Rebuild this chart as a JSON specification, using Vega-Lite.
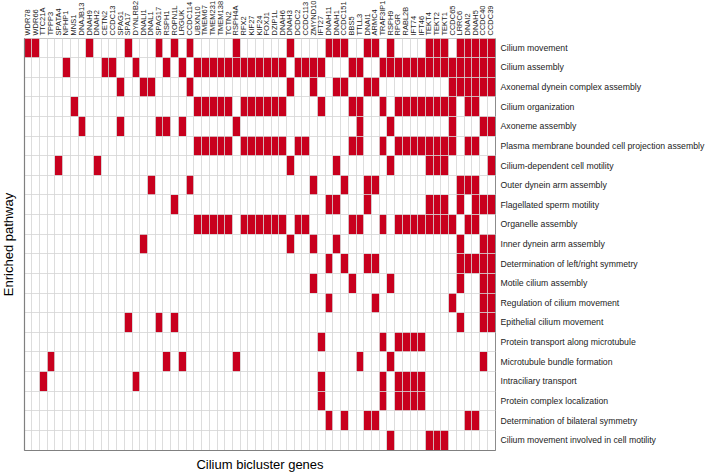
{
"$schema": "https://vega.github.io/schema/vega-lite/v6.json",
"width": 471,
"height": 412,
"autosize": {"type": "none"},
"padding": {"left": 24, "top": 38, "right": 213, "bottom": 24},
"background": "white",
"config": {"view": {"stroke": "#8c8c8c", "strokeWidth": 1}, "font": "Liberation Sans"},
"datasets": {
"cells": [
{"gene":"WDR78","pathway":"Cilium movement"},{"gene":"WDR66","pathway":"Cilium movement"},{"gene":"DNAH9","pathway":"Cilium movement"},{"gene":"SPA17","pathway":"Cilium movement"},{"gene":"SPAG17","pathway":"Cilium movement"},{"gene":"ROPN1L","pathway":"Cilium movement"},{"gene":"CCDC114","pathway":"Cilium movement"},{"gene":"RSPH4A","pathway":"Cilium movement"},{"gene":"DNAH3","pathway":"Cilium movement"},{"gene":"DNAH11","pathway":"Cilium movement"},{"gene":"DNAH1","pathway":"Cilium movement"},{"gene":"CCDC151","pathway":"Cilium movement"},{"gene":"DNAI1","pathway":"Cilium movement"},{"gene":"ARMC4","pathway":"Cilium movement"},{"gene":"RSPH9","pathway":"Cilium movement"},{"gene":"TEKT4","pathway":"Cilium movement"},{"gene":"TEKT2","pathway":"Cilium movement"},{"gene":"TEKT1","pathway":"Cilium movement"},{"gene":"LRRC6","pathway":"Cilium movement"},{"gene":"DNAI2","pathway":"Cilium movement"},{"gene":"DNAH5","pathway":"Cilium movement"},{"gene":"CCDC40","pathway":"Cilium movement"},{"gene":"CCDC39","pathway":"Cilium movement"},
{"gene":"NPHP1","pathway":"Cilium assembly"},{"gene":"CETN2","pathway":"Cilium assembly"},{"gene":"CCDC13","pathway":"Cilium assembly"},{"gene":"DYNLRB2","pathway":"Cilium assembly"},{"gene":"RSPH1","pathway":"Cilium assembly"},{"gene":"LRGUK","pathway":"Cilium assembly"},{"gene":"UBXN10","pathway":"Cilium assembly"},{"gene":"TMEM67","pathway":"Cilium assembly"},{"gene":"TMEM231","pathway":"Cilium assembly"},{"gene":"TMEM138","pathway":"Cilium assembly"},{"gene":"TCTN2","pathway":"Cilium assembly"},{"gene":"RSPH4A","pathway":"Cilium assembly"},{"gene":"RFX2","pathway":"Cilium assembly"},{"gene":"KIF27","pathway":"Cilium assembly"},{"gene":"KIF24","pathway":"Cilium assembly"},{"gene":"FOXJ1","pathway":"Cilium assembly"},{"gene":"DZIP1L","pathway":"Cilium assembly"},{"gene":"DNAH6","pathway":"Cilium assembly"},{"gene":"DCDC2","pathway":"Cilium assembly"},{"gene":"CCDC113","pathway":"Cilium assembly"},{"gene":"ZMYND10","pathway":"Cilium assembly"},{"gene":"IFT27","pathway":"Cilium assembly"},{"gene":"BBS5","pathway":"Cilium assembly"},{"gene":"TTLL3","pathway":"Cilium assembly"},{"gene":"TRAF3IP1","pathway":"Cilium assembly"},{"gene":"RSPH9","pathway":"Cilium assembly"},{"gene":"RPGR","pathway":"Cilium assembly"},{"gene":"RABL2B","pathway":"Cilium assembly"},{"gene":"IFT74","pathway":"Cilium assembly"},{"gene":"IFT46","pathway":"Cilium assembly"},{"gene":"TEKT4","pathway":"Cilium assembly"},{"gene":"TEKT2","pathway":"Cilium assembly"},{"gene":"TEKT1","pathway":"Cilium assembly"},{"gene":"CCDC65","pathway":"Cilium assembly"},{"gene":"LRRC6","pathway":"Cilium assembly"},{"gene":"DNAI2","pathway":"Cilium assembly"},{"gene":"DNAH5","pathway":"Cilium assembly"},{"gene":"CCDC40","pathway":"Cilium assembly"},{"gene":"CCDC39","pathway":"Cilium assembly"},
{"gene":"SPAG1","pathway":"Axonemal dynein complex assembly"},{"gene":"DNALI1","pathway":"Axonemal dynein complex assembly"},{"gene":"DNAL1","pathway":"Axonemal dynein complex assembly"},{"gene":"CCDC114","pathway":"Axonemal dynein complex assembly"},{"gene":"DNAH3","pathway":"Axonemal dynein complex assembly"},{"gene":"ZMYND10","pathway":"Axonemal dynein complex assembly"},{"gene":"DNAH1","pathway":"Axonemal dynein complex assembly"},{"gene":"CCDC151","pathway":"Axonemal dynein complex assembly"},{"gene":"DNAI1","pathway":"Axonemal dynein complex assembly"},{"gene":"ARMC4","pathway":"Axonemal dynein complex assembly"},{"gene":"CCDC65","pathway":"Axonemal dynein complex assembly"},{"gene":"LRRC6","pathway":"Axonemal dynein complex assembly"},{"gene":"DNAI2","pathway":"Axonemal dynein complex assembly"},{"gene":"DNAH5","pathway":"Axonemal dynein complex assembly"},{"gene":"CCDC40","pathway":"Axonemal dynein complex assembly"},{"gene":"CCDC39","pathway":"Axonemal dynein complex assembly"},
{"gene":"MNS1","pathway":"Cilium organization"},{"gene":"UBXN10","pathway":"Cilium organization"},{"gene":"TMEM67","pathway":"Cilium organization"},{"gene":"TMEM231","pathway":"Cilium organization"},{"gene":"TMEM138","pathway":"Cilium organization"},{"gene":"TCTN2","pathway":"Cilium organization"},{"gene":"RFX2","pathway":"Cilium organization"},{"gene":"KIF27","pathway":"Cilium organization"},{"gene":"KIF24","pathway":"Cilium organization"},{"gene":"FOXJ1","pathway":"Cilium organization"},{"gene":"DZIP1L","pathway":"Cilium organization"},{"gene":"DNAH6","pathway":"Cilium organization"},{"gene":"IFT27","pathway":"Cilium organization"},{"gene":"BBS5","pathway":"Cilium organization"},{"gene":"TTLL3","pathway":"Cilium organization"},{"gene":"TRAF3IP1","pathway":"Cilium organization"},{"gene":"RPGR","pathway":"Cilium organization"},{"gene":"RABL2B","pathway":"Cilium organization"},{"gene":"IFT74","pathway":"Cilium organization"},{"gene":"IFT46","pathway":"Cilium organization"},{"gene":"TEKT4","pathway":"Cilium organization"},{"gene":"TEKT2","pathway":"Cilium organization"},{"gene":"TEKT1","pathway":"Cilium organization"},{"gene":"CCDC65","pathway":"Cilium organization"},{"gene":"DNAI2","pathway":"Cilium organization"},{"gene":"DNAH5","pathway":"Cilium organization"},
{"gene":"DNAJB13","pathway":"Axoneme assembly"},{"gene":"SPAG1","pathway":"Axoneme assembly"},{"gene":"SPAG17","pathway":"Axoneme assembly"},{"gene":"RSPH1","pathway":"Axoneme assembly"},{"gene":"LRGUK","pathway":"Axoneme assembly"},{"gene":"RSPH4A","pathway":"Axoneme assembly"},{"gene":"TTLL3","pathway":"Axoneme assembly"},{"gene":"RSPH9","pathway":"Axoneme assembly"},{"gene":"CCDC65","pathway":"Axoneme assembly"},{"gene":"CCDC40","pathway":"Axoneme assembly"},{"gene":"CCDC39","pathway":"Axoneme assembly"},
{"gene":"UBXN10","pathway":"Plasma membrane bounded cell projection assembly"},{"gene":"TMEM67","pathway":"Plasma membrane bounded cell projection assembly"},{"gene":"TMEM231","pathway":"Plasma membrane bounded cell projection assembly"},{"gene":"TMEM138","pathway":"Plasma membrane bounded cell projection assembly"},{"gene":"TCTN2","pathway":"Plasma membrane bounded cell projection assembly"},{"gene":"RFX2","pathway":"Plasma membrane bounded cell projection assembly"},{"gene":"KIF27","pathway":"Plasma membrane bounded cell projection assembly"},{"gene":"KIF24","pathway":"Plasma membrane bounded cell projection assembly"},{"gene":"FOXJ1","pathway":"Plasma membrane bounded cell projection assembly"},{"gene":"DZIP1L","pathway":"Plasma membrane bounded cell projection assembly"},{"gene":"DNAH6","pathway":"Plasma membrane bounded cell projection assembly"},{"gene":"DCDC2","pathway":"Plasma membrane bounded cell projection assembly"},{"gene":"CCDC113","pathway":"Plasma membrane bounded cell projection assembly"},{"gene":"BBS5","pathway":"Plasma membrane bounded cell projection assembly"},{"gene":"TTLL3","pathway":"Plasma membrane bounded cell projection assembly"},{"gene":"TRAF3IP1","pathway":"Plasma membrane bounded cell projection assembly"},{"gene":"RPGR","pathway":"Plasma membrane bounded cell projection assembly"},{"gene":"RABL2B","pathway":"Plasma membrane bounded cell projection assembly"},{"gene":"IFT74","pathway":"Plasma membrane bounded cell projection assembly"},{"gene":"IFT46","pathway":"Plasma membrane bounded cell projection assembly"},{"gene":"TEKT4","pathway":"Plasma membrane bounded cell projection assembly"},{"gene":"TEKT2","pathway":"Plasma membrane bounded cell projection assembly"},{"gene":"TEKT1","pathway":"Plasma membrane bounded cell projection assembly"},{"gene":"CCDC65","pathway":"Plasma membrane bounded cell projection assembly"},{"gene":"DNAI2","pathway":"Plasma membrane bounded cell projection assembly"},{"gene":"DNAH5","pathway":"Plasma membrane bounded cell projection assembly"},
{"gene":"SPATA4","pathway":"Cilium-dependent cell motility"},{"gene":"DNAH2","pathway":"Cilium-dependent cell motility"},{"gene":"DNAH3","pathway":"Cilium-dependent cell motility"},{"gene":"DNAH1","pathway":"Cilium-dependent cell motility"},{"gene":"RSPH9","pathway":"Cilium-dependent cell motility"},{"gene":"TEKT4","pathway":"Cilium-dependent cell motility"},{"gene":"TEKT2","pathway":"Cilium-dependent cell motility"},{"gene":"TEKT1","pathway":"Cilium-dependent cell motility"},{"gene":"CCDC39","pathway":"Cilium-dependent cell motility"},
{"gene":"DNAL1","pathway":"Outer dynein arm assembly"},{"gene":"CCDC114","pathway":"Outer dynein arm assembly"},{"gene":"ZMYND10","pathway":"Outer dynein arm assembly"},{"gene":"CCDC151","pathway":"Outer dynein arm assembly"},{"gene":"DNAI1","pathway":"Outer dynein arm assembly"},{"gene":"ARMC4","pathway":"Outer dynein arm assembly"},{"gene":"LRRC6","pathway":"Outer dynein arm assembly"},{"gene":"DNAI2","pathway":"Outer dynein arm assembly"},{"gene":"DNAH5","pathway":"Outer dynein arm assembly"},
{"gene":"ROPN1L","pathway":"Flagellated sperm motility"},{"gene":"DNAH11","pathway":"Flagellated sperm motility"},{"gene":"DNAH1","pathway":"Flagellated sperm motility"},{"gene":"DNAI1","pathway":"Flagellated sperm motility"},{"gene":"TEKT4","pathway":"Flagellated sperm motility"},{"gene":"TEKT2","pathway":"Flagellated sperm motility"},{"gene":"TEKT1","pathway":"Flagellated sperm motility"},{"gene":"LRRC6","pathway":"Flagellated sperm motility"},{"gene":"DNAH5","pathway":"Flagellated sperm motility"},{"gene":"CCDC40","pathway":"Flagellated sperm motility"},{"gene":"CCDC39","pathway":"Flagellated sperm motility"},
{"gene":"UBXN10","pathway":"Organelle assembly"},{"gene":"TMEM67","pathway":"Organelle assembly"},{"gene":"TMEM231","pathway":"Organelle assembly"},{"gene":"TMEM138","pathway":"Organelle assembly"},{"gene":"TCTN2","pathway":"Organelle assembly"},{"gene":"RFX2","pathway":"Organelle assembly"},{"gene":"KIF27","pathway":"Organelle assembly"},{"gene":"KIF24","pathway":"Organelle assembly"},{"gene":"FOXJ1","pathway":"Organelle assembly"},{"gene":"DZIP1L","pathway":"Organelle assembly"},{"gene":"DNAH6","pathway":"Organelle assembly"},{"gene":"DCDC2","pathway":"Organelle assembly"},{"gene":"CCDC113","pathway":"Organelle assembly"},{"gene":"BBS5","pathway":"Organelle assembly"},{"gene":"TTLL3","pathway":"Organelle assembly"},{"gene":"TRAF3IP1","pathway":"Organelle assembly"},{"gene":"RPGR","pathway":"Organelle assembly"},{"gene":"RABL2B","pathway":"Organelle assembly"},{"gene":"IFT74","pathway":"Organelle assembly"},{"gene":"IFT46","pathway":"Organelle assembly"},{"gene":"TEKT4","pathway":"Organelle assembly"},{"gene":"TEKT2","pathway":"Organelle assembly"},{"gene":"TEKT1","pathway":"Organelle assembly"},{"gene":"CCDC65","pathway":"Organelle assembly"},{"gene":"DNAI2","pathway":"Organelle assembly"},{"gene":"DNAH5","pathway":"Organelle assembly"},
{"gene":"DNALI1","pathway":"Inner dynein arm assembly"},{"gene":"DNAH3","pathway":"Inner dynein arm assembly"},{"gene":"ZMYND10","pathway":"Inner dynein arm assembly"},{"gene":"DNAH1","pathway":"Inner dynein arm assembly"},{"gene":"LRRC6","pathway":"Inner dynein arm assembly"},{"gene":"CCDC40","pathway":"Inner dynein arm assembly"},{"gene":"CCDC39","pathway":"Inner dynein arm assembly"},
{"gene":"DNAH11","pathway":"Determination of left/right symmetry"},{"gene":"CCDC151","pathway":"Determination of left/right symmetry"},{"gene":"DNAI1","pathway":"Determination of left/right symmetry"},{"gene":"ARMC4","pathway":"Determination of left/right symmetry"},{"gene":"LRRC6","pathway":"Determination of left/right symmetry"},{"gene":"DNAI2","pathway":"Determination of left/right symmetry"},{"gene":"DNAH5","pathway":"Determination of left/right symmetry"},{"gene":"CCDC40","pathway":"Determination of left/right symmetry"},{"gene":"CCDC39","pathway":"Determination of left/right symmetry"},
{"gene":"ZMYND10","pathway":"Motile cilium assembly"},{"gene":"BBS5","pathway":"Motile cilium assembly"},{"gene":"RSPH9","pathway":"Motile cilium assembly"},{"gene":"LRRC6","pathway":"Motile cilium assembly"},{"gene":"CCDC40","pathway":"Motile cilium assembly"},{"gene":"CCDC39","pathway":"Motile cilium assembly"},
{"gene":"DNAH11","pathway":"Regulation of cilium movement"},{"gene":"ARMC4","pathway":"Regulation of cilium movement"},{"gene":"CCDC65","pathway":"Regulation of cilium movement"},{"gene":"CCDC40","pathway":"Regulation of cilium movement"},{"gene":"CCDC39","pathway":"Regulation of cilium movement"},
{"gene":"SPA17","pathway":"Epithelial cilium movement"},{"gene":"SPAG17","pathway":"Epithelial cilium movement"},{"gene":"ROPN1L","pathway":"Epithelial cilium movement"},{"gene":"LRRC6","pathway":"Epithelial cilium movement"},{"gene":"CCDC40","pathway":"Epithelial cilium movement"},{"gene":"CCDC39","pathway":"Epithelial cilium movement"},
{"gene":"IFT27","pathway":"Protein transport along microtubule"},{"gene":"TRAF3IP1","pathway":"Protein transport along microtubule"},{"gene":"RPGR","pathway":"Protein transport along microtubule"},{"gene":"RABL2B","pathway":"Protein transport along microtubule"},{"gene":"IFT74","pathway":"Protein transport along microtubule"},{"gene":"IFT46","pathway":"Protein transport along microtubule"},
{"gene":"TPPP3","pathway":"Microtubule bundle formation"},{"gene":"RSPH1","pathway":"Microtubule bundle formation"},{"gene":"LRGUK","pathway":"Microtubule bundle formation"},{"gene":"RSPH4A","pathway":"Microtubule bundle formation"},{"gene":"TTLL3","pathway":"Microtubule bundle formation"},{"gene":"RSPH9","pathway":"Microtubule bundle formation"},{"gene":"CCDC40","pathway":"Microtubule bundle formation"},
{"gene":"TTC21A","pathway":"Intraciliary transport"},{"gene":"DYNLRB2","pathway":"Intraciliary transport"},{"gene":"IFT27","pathway":"Intraciliary transport"},{"gene":"TRAF3IP1","pathway":"Intraciliary transport"},{"gene":"RPGR","pathway":"Intraciliary transport"},{"gene":"RABL2B","pathway":"Intraciliary transport"},{"gene":"IFT74","pathway":"Intraciliary transport"},{"gene":"IFT46","pathway":"Intraciliary transport"},
{"gene":"IFT27","pathway":"Protein complex localization"},{"gene":"TRAF3IP1","pathway":"Protein complex localization"},{"gene":"RPGR","pathway":"Protein complex localization"},{"gene":"RABL2B","pathway":"Protein complex localization"},{"gene":"IFT74","pathway":"Protein complex localization"},{"gene":"IFT46","pathway":"Protein complex localization"},
{"gene":"DNAH11","pathway":"Determination of bilateral symmetry"},{"gene":"CCDC151","pathway":"Determination of bilateral symmetry"},{"gene":"DNAI1","pathway":"Determination of bilateral symmetry"},{"gene":"ARMC4","pathway":"Determination of bilateral symmetry"},{"gene":"DNAI2","pathway":"Determination of bilateral symmetry"},{"gene":"DNAH5","pathway":"Determination of bilateral symmetry"},
{"gene":"RSPH9","pathway":"Cilium movement involved in cell motility"},{"gene":"TEKT4","pathway":"Cilium movement involved in cell motility"},{"gene":"TEKT2","pathway":"Cilium movement involved in cell motility"},{"gene":"TEKT1","pathway":"Cilium movement involved in cell motility"}
]
},
"data": {"name": "cells"},
"layer": [
{
"mark": {"type": "rect", "color": "#c8001e"},
"encoding": {
"x": {"field": "gene", "type": "nominal",
"scale": {"domain": ["WDR78","WDR66","TTC21A","TPPP3","SPATA4","NPHP1","MNS1","DNAJB13","DNAH9","DNAH2","CETN2","CCDC13","SPAG1","SPA17","DYNLRB2","DNALI1","DNAL1","SPAG17","RSPH1","ROPN1L","LRGUK","CCDC114","UBXN10","TMEM67","TMEM231","TMEM138","TCTN2","RSPH4A","RFX2","KIF27","KIF24","FOXJ1","DZIP1L","DNAH6","DNAH3","DCDC2","CCDC113","ZMYND10","IFT27","DNAH11","DNAH1","CCDC151","BBS5","TTLL3","DNAI1","ARMC4","TRAF3IP1","RSPH9","RPGR","RABL2B","IFT74","IFT46","TEKT4","TEKT2","TEKT1","CCDC65","LRRC6","DNAI2","DNAH5","CCDC40","CCDC39"], "paddingInner": 0, "paddingOuter": 0},
"axis": {"orient": "top", "title": null, "labelAngle": -90, "labelAlign": "left", "labelBaseline": "middle", "labelPadding": 3, "labelFontSize": 7.5, "labelColor": "#222222", "labelOverlap": false, "labelFont": "Liberation Sans", "ticks": false, "domain": false, "grid": true, "gridColor": "#d4d4d4", "gridWidth": 0.8, "bandPosition": 0, "zindex": 1}},
"y": {"field": "pathway", "type": "nominal",
"scale": {"domain": ["Cilium movement","Cilium assembly","Axonemal dynein complex assembly","Cilium organization","Axoneme assembly","Plasma membrane bounded cell projection assembly","Cilium-dependent cell motility","Outer dynein arm assembly","Flagellated sperm motility","Organelle assembly","Inner dynein arm assembly","Determination of left/right symmetry","Motile cilium assembly","Regulation of cilium movement","Epithelial cilium movement","Protein transport along microtubule","Microtubule bundle formation","Intraciliary transport","Protein complex localization","Determination of bilateral symmetry","Cilium movement involved in cell motility"], "paddingInner": 0, "paddingOuter": 0},
"axis": {"orient": "right", "title": null, "labelAlign": "left", "labelPadding": 5, "labelFontSize": 8.7, "labelColor": "#222222", "labelFont": "Liberation Sans", "labelLimit": 300, "labelOverlap": false, "ticks": false, "domain": false, "grid": true, "gridColor": "#d4d4d4", "gridWidth": 0.8, "bandPosition": 0, "zindex": 1}}
}
},
{
"mark": {"type": "rect", "opacity": 0},
"encoding": {
"x": {"field": "gene", "type": "nominal",
"axis": {"orient": "bottom", "title": "Cilium bicluster genes", "labels": false, "ticks": false, "grid": false, "domain": true, "domainColor": "#808080", "domainWidth": 1.2, "titleFont": "Liberation Sans", "titleFontSize": 13, "titleFontWeight": "normal", "titleColor": "#000000", "titlePadding": 8, "zindex": 1}},
"y": {"field": "pathway", "type": "nominal",
"axis": {"orient": "left", "title": "Enriched pathway", "labels": false, "ticks": false, "grid": false, "domain": true, "domainColor": "#808080", "domainWidth": 1.2, "titleFont": "Liberation Sans", "titleFontSize": 13, "titleFontWeight": "normal", "titleColor": "#000000", "titlePadding": 9, "zindex": 1}}
}
}
],
"resolve": {"axis": {"x": "independent", "y": "independent"}}
}
